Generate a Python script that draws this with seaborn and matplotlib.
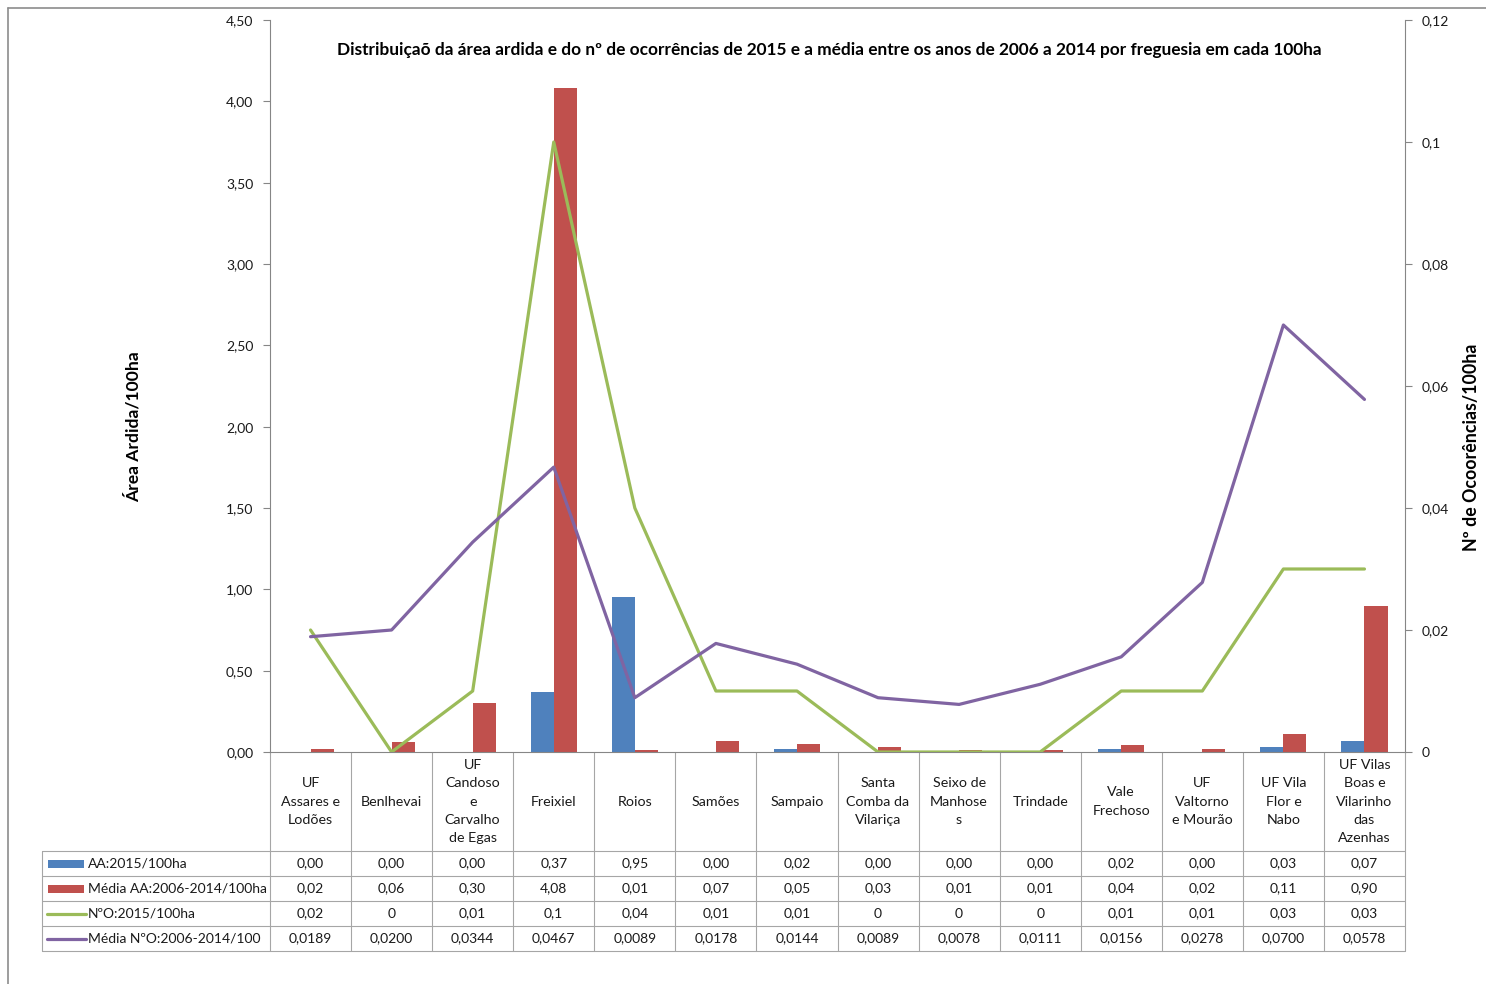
import numpy as np
import pandas as pd
import matplotlib
matplotlib.use("Agg")
import matplotlib.pyplot as plt
from matplotlib.lines import Line2D
from matplotlib.patches import Rectangle
import seaborn as sns

# Freguesias (as written in the header row of the data table)
freguesias = [
    "UF\nAssares e\nLodões",
    "Benlhevai",
    "UF\nCandoso\ne\nCarvalho\nde Egas",
    "Freixiel",
    "Roios",
    "Samões",
    "Sampaio",
    "Santa\nComba da\nVilariça",
    "Seixo de\nManhose\ns",
    "Trindade",
    "Vale\nFrechoso",
    "UF\nValtorno\ne Mourão",
    "UF Vila\nFlor e\nNabo",
    "UF Vilas\nBoas e\nVilarinho\ndas\nAzenhas",
]

# Área ardida por 100 ha
aa_2015 = [0.00, 0.00, 0.00, 0.37, 0.95, 0.00, 0.02, 0.00, 0.00, 0.00, 0.02, 0.00, 0.03, 0.07]
aa_media = [0.02, 0.06, 0.30, 4.08, 0.01, 0.07, 0.05, 0.03, 0.01, 0.01, 0.04, 0.02, 0.11, 0.90]
# Nº de ocorrências por 100 ha
no_2015 = [0.02, 0, 0.01, 0.1, 0.04, 0.01, 0.01, 0, 0, 0, 0.01, 0.01, 0.03, 0.03]
no_media = [0.0189, 0.0200, 0.0344, 0.0467, 0.0089, 0.0178, 0.0144, 0.0089, 0.0078,
            0.0111, 0.0156, 0.0278, 0.0700, 0.0578]

series = ["AA:2015/100ha", "Média AA:2006-2014/100ha", "NºO:2015/100ha", "Média NºO:2006-2014/100"]
left_ticks = [0.0, 0.5, 1.0, 1.5, 2.0, 2.5, 3.0, 3.5, 4.0, 4.5]
right_ticks = [0, 0.02, 0.04, 0.06, 0.08, 0.1, 0.12]

title = ("Distribuiçaõ da área ardida e do nº de ocorrências de 2015 e a média "
         "entre os anos de 2006 a 2014 por freguesia em cada 100ha")
ylabel_left = "Área Ardida/100ha"
ylabel_right = "Nº de Ocoorências/100ha"

BLUE, RED, GREEN, PURPLE = "#4F81BD", "#C0504D", "#9BBB59", "#8064A2"
AXIS_GREY = "#868686"
GRID_GREY = "#A6A6A6"
TEXT = "#1a1a1a"

sns.set_theme(style="white")
plt.rcParams["font.family"] = ["Lato", "DejaVu Sans"]

W, H = 1486, 984
fig = plt.figure(figsize=(W / 100, H / 100), dpi=100)
fig.patch.set_facecolor("white")

# plot area in pixels
X0, X1, YT, YB = 270, 1405, 20, 752
n = len(freguesias)
ax = fig.add_axes([X0 / W, 1 - YB / H, (X1 - X0) / W, (YB - YT) / H])

df = pd.DataFrame({
    "freguesia": freguesias * 2,
    "serie": [series[0]] * n + [series[1]] * n,
    "valor": aa_2015 + aa_media,
})
sns.barplot(data=df, x="freguesia", y="valor", hue="serie", order=freguesias,
            hue_order=series[:2], palette=[BLUE, RED], width=0.57, gap=0,
            saturation=1, errorbar=None, legend=False, linewidth=0, ax=ax)
ax.set_xlim(-0.5, n - 0.5)
ax.set_ylim(0, 4.5)
ax.set_yticks(left_ticks)
ax.set_yticklabels([f"{v:.2f}".replace(".", ",") for v in left_ticks])
ax.set_xticks([])
ax.set_xlabel("")
ax.set_ylabel("")
ax.tick_params(axis="y", left=True, direction="out", length=5, width=0.8,
               color=AXIS_GREY, labelsize=10, labelcolor=TEXT, pad=7)
for s in ["top", "right"]:
    ax.spines[s].set_visible(False)
for s in ["left", "bottom"]:
    ax.spines[s].set_color(AXIS_GREY)
    ax.spines[s].set_linewidth(0.8)

ax2 = ax.twinx()
pos = np.arange(n)
sns.lineplot(x=pos, y=no_2015, ax=ax2, color=GREEN, linewidth=2.3,
             solid_joinstyle="round", solid_capstyle="round")
sns.lineplot(x=pos, y=no_media, ax=ax2, color=PURPLE, linewidth=2.3,
             solid_joinstyle="round", solid_capstyle="round")
ax2.set_ylim(0, 0.12)
ax2.set_xlim(-0.5, n - 0.5)
ax2.set_yticks(right_ticks)
ax2.set_yticklabels([f"{v:g}".replace(".", ",") for v in right_ticks])
ax2.set_ylabel("")
ax2.tick_params(axis="y", right=True, direction="out", length=5, width=0.8,
                color=AXIS_GREY, labelsize=10, labelcolor=TEXT, pad=7)
for s in ["top", "left", "bottom"]:
    ax2.spines[s].set_visible(False)
ax2.spines["right"].set_color(AXIS_GREY)
ax2.spines["right"].set_linewidth(0.8)

# titles and axis labels
fig.text(829 / W, 1 - 50 / H, title, ha="center", va="center",
         fontsize=12.4, fontweight="bold", color="black")
fig.text(133 / W, 1 - 427 / H, ylabel_left, ha="center", va="center",
         rotation=90, fontsize=12.6, fontweight="bold", color="black")
fig.text(1472 / W, 1 - 447 / H, ylabel_right, ha="center", va="center",
         rotation=90, fontsize=12.8, fontweight="bold", color="black")

# data table underneath the chart, in pixel coordinates
tab = fig.add_axes([0, 0, 1, 1], zorder=-1)
tab.set_xlim(0, W)
tab.set_ylim(H, 0)
tab.axis("off")
tab.patch.set_visible(False)

LX = 42
row_edges = [752, 851, 876, 901, 926, 951]
cw = (X1 - X0) / n
col_edges = [X0 + i * cw for i in range(n + 1)]

for y in row_edges[1:]:
    tab.add_line(Line2D([LX, X1], [y, y], color=GRID_GREY, lw=0.8))
tab.add_line(Line2D([LX, LX], [row_edges[1], row_edges[-1]], color=GRID_GREY, lw=0.8))
for x in col_edges:
    tab.add_line(Line2D([x, x], [row_edges[0], row_edges[-1]], color=GRID_GREY, lw=0.8))

hdr_y = (row_edges[0] + row_edges[1]) / 2
for i, name in enumerate(freguesias):
    tab.text(X0 + (i + 0.5) * cw, hdr_y, name, ha="center", va="center",
             multialignment="center", fontsize=10.3, linespacing=1.62, color=TEXT)

fmt = [lambda v: f"{v:.2f}", lambda v: f"{v:.2f}", lambda v: f"{v:g}", lambda v: f"{v:.4f}"]
rows = [aa_2015, aa_media, no_2015, no_media]
colors = [BLUE, RED, GREEN, PURPLE]
for r, (vals, f, c, label) in enumerate(zip(rows, fmt, colors, series)):
    yc = (row_edges[r + 1] + row_edges[r + 2]) / 2
    if r < 2:
        tab.add_patch(Rectangle((48, yc - 4), 36, 8, color=c, lw=0))
    else:
        tab.add_line(Line2D([47, 86], [yc, yc], color=c, lw=2.3))
    tab.text(88, yc, label, ha="left", va="center", fontsize=10, color=TEXT)
    for i, v in enumerate(vals):
        tab.text(X0 + (i + 0.5) * cw, yc, f(v).replace(".", ","), ha="center",
                 va="center", fontsize=10, color=TEXT)

# outer chart border
tab.add_line(Line2D([8, 8], [8, H], color="#8C8C8C", lw=1.2))
tab.add_line(Line2D([8, W], [8, 8], color="#8C8C8C", lw=1.2))

fig.savefig("out.png", dpi=100, facecolor="white")
